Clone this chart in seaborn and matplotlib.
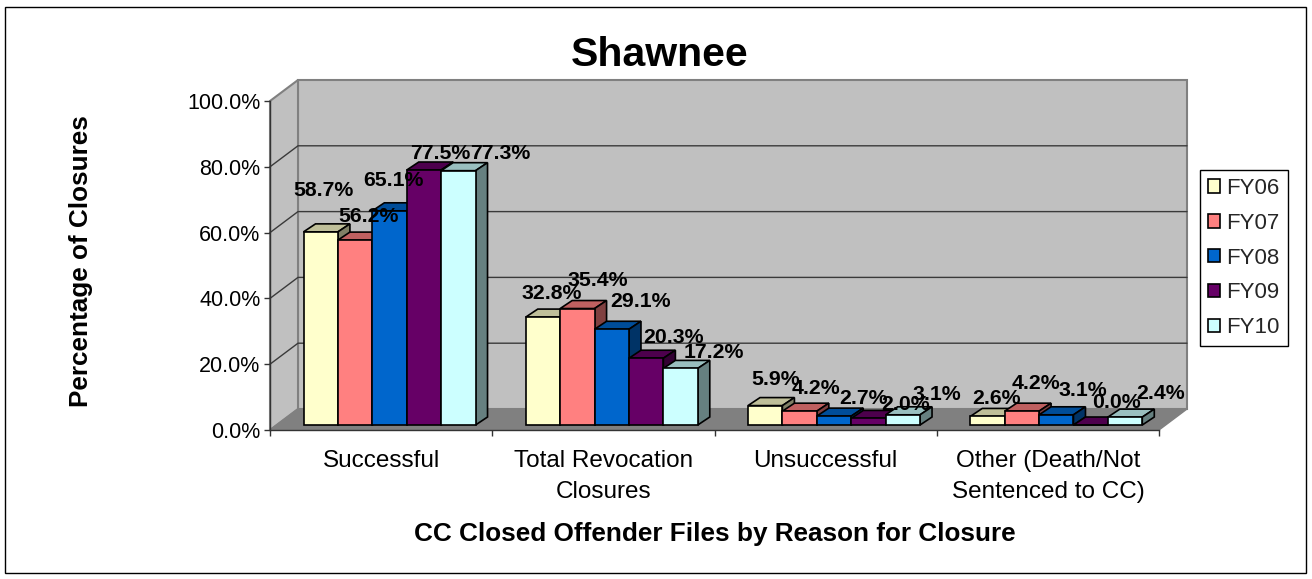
import pandas as pd
import numpy as np
import matplotlib
matplotlib.use('Agg')
import matplotlib.pyplot as plt
import seaborn as sns
from matplotlib.lines import Line2D
from matplotlib.patches import Polygon, Rectangle
from matplotlib.transforms import Affine2D, IdentityTransform

reasons = ['Successful', 'Total Revocation\nClosures', 'Unsuccessful',
           'Other (Death/Not\nSentenced to CC)']
years = ['FY06', 'FY07', 'FY08', 'FY09', 'FY10']
fy06 = [58.7, 32.8, 5.9, 2.6]
fy07 = [56.2, 35.4, 4.2, 4.2]
fy08 = [65.1, 29.1, 2.7, 3.1]
fy09 = [77.5, 20.3, 2.0, 0.0]
fy10 = [77.3, 17.2, 3.1, 2.4]
colors = ['#FFFFCC', '#FF8080', '#0066CC', '#660066', '#CCFFFF']

# hand placed label offsets in pixels (right, up) from the top of each bar
label_offsets = [
    [(3, 41), (9, 24), (10, 26), (9, 18)],
    [(13, 24), (20, 28), (16, 23), (14, 28)],
    [(4, 30), (29, 28), (29, 18), (27, 24)],
    [(16, 17), (27, 21), (37, 14), (26, 22)],
    [(42, 17), (33, 16), (34, 20), (35, 24)],
]

W, H = 1312, 579
WALL_DX, WALL_DY = 28, 21     # depth of the floor
BAR_DX, BAR_DY = 8.4, 5       # where the bars stand on the floor
SIDE_DX, SIDE_DY = 12, 8      # depth of a bar

df = pd.DataFrame({'reason': reasons * 5,
                   'year': np.repeat(years, 4),
                   'pct': fy06 + fy07 + fy08 + fy09 + fy10})

sns.set_theme(style='white')
plt.rcParams['font.family'] = ['Liberation Sans', 'DejaVu Sans']

fig = plt.figure(figsize=(W / 100, H / 100), dpi=100)
ax = fig.add_axes([270 / W, (H - 430) / H, 889 / W, 329 / H])
ax.patch.set_alpha(0)

sns.barplot(data=df, x='reason', y='pct', hue='year', palette=colors,
            width=0.774, gap=0, saturation=1, errorbar=None,
            edgecolor='black', linewidth=1.2, ax=ax)

ax.set_xlim(-0.5, 3.5)
ax.set_ylim(0, 100)


def shade(color, k):
    r, g, b = matplotlib.colors.to_rgb(color)
    return (r * k, g * k, b * k)


def px(x, y):
    return ax.transData.transform((x, y))


def add_poly(points, face, edge, z, lw=1.2):
    ax.add_patch(Polygon(points, closed=True, facecolor=face, edgecolor=edge, linewidth=lw,
                         transform=IdentityTransform(), clip_on=False, zorder=z))


# walls and floor
x0, y0 = px(-0.5, 0)
x1, y1 = px(3.5, 100)
add_poly([(x0 + WALL_DX, y0 + WALL_DY), (x1 + WALL_DX, y0 + WALL_DY),
          (x1 + WALL_DX, y1 + WALL_DY), (x0 + WALL_DX, y1 + WALL_DY)], '#C0C0C0', '#808080', 0.1, 1.5)
add_poly([(x0, y0), (x0 + WALL_DX, y0 + WALL_DY), (x0 + WALL_DX, y1 + WALL_DY), (x0, y1)],
         '#C0C0C0', '#808080', 0.1, 1.5)
add_poly([(x0, y0), (x0 + WALL_DX, y0 + WALL_DY), (x1 + WALL_DX, y0 + WALL_DY), (x1, y0)],
         '#808080', '#808080', 0.2, 1)

yticks = [0, 20, 40, 60, 80, 100]
for t in yticks[1:-1]:
    _, yp = px(0, t)
    ax.add_line(Line2D([x0, x0 + WALL_DX, x1 + WALL_DX], [yp, yp + WALL_DY, yp + WALL_DY],
                       color='#3A3A3A', linewidth=1, transform=IdentityTransform(),
                       clip_on=False, zorder=0.3))

# bars: seaborn draws the front faces, the top and side are added on from them
shift = Affine2D().translate(BAR_DX, BAR_DY)
for h, bars in enumerate(ax.containers):
    for c, bar in enumerate(bars):
        left, base = px(bar.get_x(), 0)
        right, top = px(bar.get_x() + bar.get_width(), bar.get_height())
        left, right = left + BAR_DX, right + BAR_DX
        base, top = base + BAR_DY, top + BAR_DY
        z = 1 + c * 10 + h
        bar.set_transform(ax.transData + shift)
        bar.set_clip_on(False)
        bar.set_zorder(z + 0.2)
        add_poly([(left, top), (left + SIDE_DX, top + SIDE_DY), (right + SIDE_DX, top + SIDE_DY),
                  (right, top)], shade(colors[h], 0.75), 'black', z)
        add_poly([(right, top), (right + SIDE_DX, top + SIDE_DY), (right + SIDE_DX, base + SIDE_DY),
                  (right, base)], shade(colors[h], 0.5), 'black', z)
        off = label_offsets[h][c]
        ax.text((left + right) / 2 + off[0], top + off[1], f'{bar.get_height():.1f}%',
                transform=IdentityTransform(), ha='center', va='center', fontsize=15.3,
                fontweight='bold', color='black', zorder=100, clip_on=False)

# axes
for side in ['top', 'right']:
    ax.spines[side].set_visible(False)
for side in ['left', 'bottom']:
    ax.spines[side].set_color('#333333')
    ax.spines[side].set_linewidth(1)
    ax.spines[side].set_zorder(0.5)

ax.set_yticks(yticks)
ax.set_yticklabels([f'{t:.1f}%' for t in yticks])
ax.set_xticks([-0.5, 0.5, 1.5, 2.5, 3.5])
ax.set_xticklabels([])
ax.set_xticks([0, 1, 2, 3], minor=True)
ax.set_xticklabels(reasons, minor=True, fontsize=17.5, color='black', linespacing=1.5)
ax.tick_params(axis='x', which='major', bottom=True, length=4.5, width=1, color='#333333')
ax.tick_params(axis='x', which='minor', bottom=False, length=0, pad=14.5)
ax.tick_params(axis='y', left=True, length=4.5, width=1, color='#333333', labelsize=15.5,
               labelcolor='black', pad=2.5)
ax.set_xlabel('')
ax.set_ylabel('')

fig.text(660 / W, 1 - 55 / H, 'Shawnee', ha='center', va='center', fontsize=29.5,
         fontweight='bold', color='black')
fig.text(715 / W, 1 - 534 / H, 'CC Closed Offender Files by Reason for Closure', ha='center',
         va='center', fontsize=18.8, fontweight='bold', color='black')
fig.text(81 / W, 1 - 261 / H, 'Percentage of Closures', ha='center', va='center', rotation=90,
         fontsize=18.8, fontweight='bold', color='black')

leg = ax.legend(loc='upper left', bbox_to_anchor=(1200 / W, 1 - 170 / H),
                bbox_transform=fig.transFigure, fontsize=16, frameon=True, fancybox=False,
                framealpha=1, edgecolor='black', title=None, borderaxespad=0,
                handlelength=0.55, handleheight=0.55, handletextpad=0.27, labelspacing=0.62,
                borderpad=0.36)
leg.get_frame().set_linewidth(1)
leg.set_zorder(200)

fig.add_artist(Rectangle((5 / W, 1 - 573 / H), 1301 / W, 566 / H, transform=fig.transFigure,
                         facecolor='none', edgecolor='black', linewidth=1))

fig.savefig('out.png', dpi=100)
